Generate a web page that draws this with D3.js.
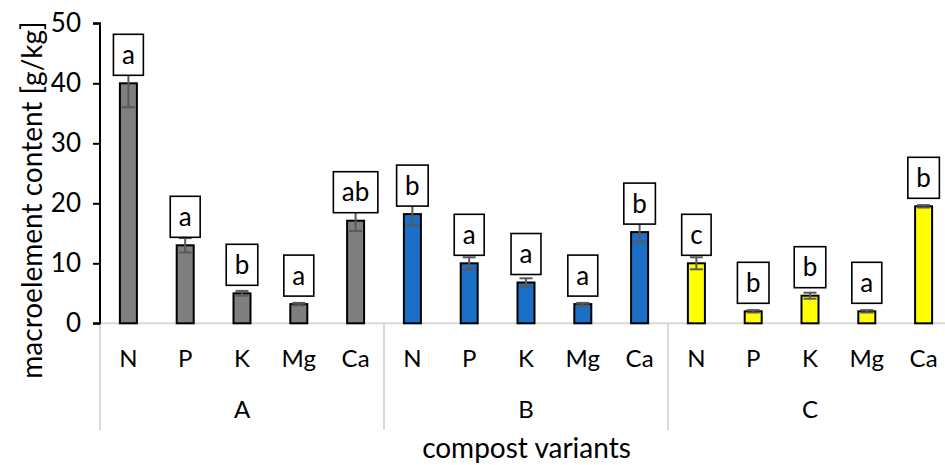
<!DOCTYPE html>
<html>
<head>
<meta charset="utf-8">
<script src="https://cdn.jsdelivr.net/npm/d3@7"></script>
<style>
  html, body { margin: 0; padding: 0; background: #fff; }
  svg { display: block; font-family: Lato, "Open Sans", sans-serif; }
</style>
</head>
<body>
<svg id="chart" width="945" height="465"></svg>
<script>
// Macroelement content per compost variant (g/kg), mean ± error, with significance letters
const groups = ["A", "B", "C"];
const elements = ["N", "P", "K", "Mg", "Ca"];
const valuesA = [40, 13, 5, 3.2, 17.1];
const valuesB = [18.2, 10, 6.8, 3.2, 15.2];
const valuesC = [10, 2, 4.6, 2, 19.5];
const errorsA = [4, 1.2, 0.4, 0.2, 1.7];
const errorsB = [1.8, 1, 0.7, 0.2, 1.6];
const errorsC = [1, 0.2, 0.5, 0.2, 0.2];
const lettersA = ["a", "a", "b", "a", "ab"];
const lettersB = ["b", "a", "a", "a", "b"];
const lettersC = ["c", "b", "b", "a", "b"];
const groupColors = ["#7f7f7f", "#1b6fc6", "#ffff00"];
const yTicks = [0, 10, 20, 30, 40, 50];

const values = [valuesA, valuesB, valuesC];
const errors = [errorsA, errorsB, errorsC];
const letters = [lettersA, lettersB, lettersC];

const rows = [];
groups.forEach((g, gi) => {
  elements.forEach((e, ei) => {
    rows.push({ group: g, element: e, value: values[gi][ei], err: errors[gi][ei],
                letter: letters[gi][ei], color: groupColors[gi] });
  });
});

const svg = d3.select("#chart");
const plotLeft = 100, groupWidth = 284;
const plotTop = 23.3, plotBottom = 323.3;

const y = d3.scaleLinear().domain([0, 50]).range([plotBottom, plotTop]);
const xGroup = d3.scaleBand().domain(groups).range([plotLeft, plotLeft + groupWidth * groups.length]);
const xElem = d3.scaleBand().domain(elements).range([0, groupWidth]);
const cx = d => xGroup(d.group) + xElem(d.element) + xElem.bandwidth() / 2;
const barW = 17;

// category axis baseline and group separators
svg.append("line")
  .attr("x1", plotLeft).attr("x2", 945).attr("y1", y(0)).attr("y2", y(0))
  .attr("stroke", "#d9d9d9").attr("stroke-width", 2);
const seps = groups.map(g => xGroup(g)).concat([xGroup(groups[groups.length - 1]) + groupWidth]);
svg.selectAll("line.sep").data(seps).enter().append("line")
  .attr("class", "sep")
  .attr("x1", d => d).attr("x2", d => d)
  .attr("y1", y(0)).attr("y2", 430)
  .attr("stroke", "#d9d9d9").attr("stroke-width", 2);

// bars
svg.selectAll("rect.bar").data(rows).enter().append("rect")
  .attr("class", "bar")
  .attr("x", d => cx(d) - barW / 2)
  .attr("y", d => y(d.value))
  .attr("width", barW)
  .attr("height", d => y(0) - y(d.value))
  .attr("fill", d => d.color)
  .attr("stroke", "#000").attr("stroke-width", 2);

// error bars
const eb = svg.selectAll("g.err").data(rows).enter().append("g").attr("class", "err")
  .attr("stroke", "#595959").attr("stroke-width", 2);
eb.append("line")
  .attr("x1", cx).attr("x2", cx)
  .attr("y1", d => y(d.value - d.err)).attr("y2", d => y(d.value + d.err));
eb.append("line")
  .attr("x1", d => cx(d) - 6.5).attr("x2", d => cx(d) + 6.5)
  .attr("y1", d => y(d.value - d.err)).attr("y2", d => y(d.value - d.err));
eb.append("line")
  .attr("x1", d => cx(d) - 6.5).attr("x2", d => cx(d) + 6.5)
  .attr("y1", d => y(d.value + d.err)).attr("y2", d => y(d.value + d.err));

// letter boxes above each bar
const boxH = 41;
const lab = svg.selectAll("g.lab").data(rows).enter().append("g").attr("class", "lab");
const labRect = lab.append("rect");
const labText = lab.append("text")
  .attr("x", cx)
  .attr("y", d => y(d.value) - 8 - boxH / 2 + 9)
  .attr("text-anchor", "middle")
  .attr("font-size", 26)
  .attr("fill", "#000")
  .text(d => d.letter);
labText.each(function (d) { d.tw = this.getComputedTextLength(); });
labRect
  .attr("x", d => cx(d) - (d.tw + 17) / 2)
  .attr("y", d => y(d.value) - 8 - boxH)
  .attr("width", d => d.tw + 17)
  .attr("height", boxH)
  .attr("fill", "#fff").attr("stroke", "#000").attr("stroke-width", 1.6);

// y axis
const yAxis = d3.axisLeft(y).tickValues(yTicks).tickSize(7).tickPadding(12);
const ya = svg.append("g").attr("transform", `translate(${plotLeft},0)`).call(yAxis);
ya.select(".domain").attr("stroke", "#000").attr("stroke-width", 2).attr("d", `M-7,${plotTop}H0V${plotBottom}H-7`);
ya.selectAll(".tick line").attr("stroke", "#000").attr("stroke-width", 2);
ya.selectAll(".tick text").attr("font-size", 26).attr("font-family", "Lato, sans-serif").attr("fill", "#000");

// element labels and group labels
svg.selectAll("text.elem").data(rows).enter().append("text")
  .attr("class", "elem")
  .attr("x", cx).attr("y", 367)
  .attr("text-anchor", "middle").attr("font-size", 24).attr("fill", "#000")
  .text(d => d.element);
svg.selectAll("text.grp").data(groups).enter().append("text")
  .attr("class", "grp")
  .attr("x", g => xGroup(g) + groupWidth / 2).attr("y", 418)
  .attr("text-anchor", "middle").attr("font-size", 24).attr("fill", "#000")
  .text(g => g);

// axis titles
svg.append("text")
  .attr("x", (plotLeft + 945) / 2 + 4).attr("y", 458)
  .attr("text-anchor", "middle").attr("font-size", 28).attr("fill", "#000")
  .text("compost variants");
svg.append("text")
  .attr("transform", "rotate(-90)")
  .attr("x", -200).attr("y", 42)
  .attr("text-anchor", "middle").attr("font-size", 28).attr("fill", "#000")
  .text("macroelement content [g/kg]");
</script>
</body>
</html>
